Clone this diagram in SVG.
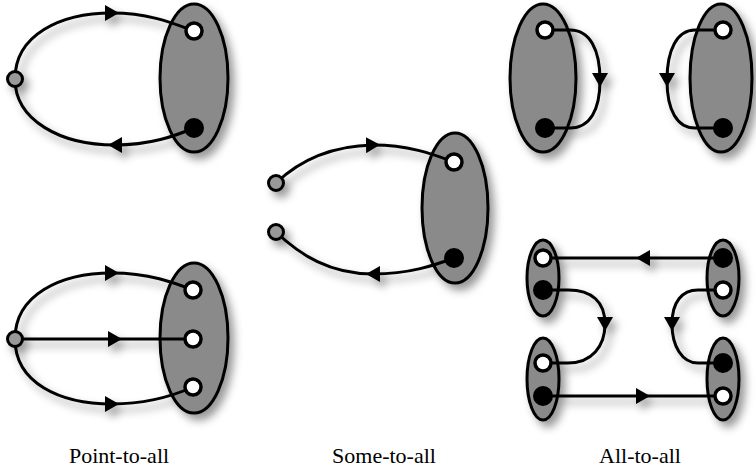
<svg xmlns="http://www.w3.org/2000/svg" width="756" height="471" viewBox="0 0 756 471">
<defs>
<filter id="sh" x="-30%" y="-30%" width="170%" height="170%">
<feDropShadow dx="5" dy="6" stdDeviation="4" flood-color="#000" flood-opacity="0.4"/>
</filter>
<marker id="arr" viewBox="0 0 14 16" markerWidth="14" markerHeight="16" refX="7" refY="8" orient="auto" markerUnits="userSpaceOnUse">
<path d="M0,0 L14,8 L0,16 z" fill="#000"/>
</marker>
</defs>
<style>
.grp{fill:#8a8a8a;stroke:#000;stroke-width:3}
.src{fill:#999;stroke:#000;stroke-width:3}
.wn{fill:#fff;stroke:#000;stroke-width:3.5}
.bn{fill:#000;stroke:#000;stroke-width:2}
.c{fill:none;stroke:#000;stroke-width:3}
.a{marker-end:url(#arr)}
.lbl{font-family:"Liberation Serif","Times New Roman",serif;font-size:22px;fill:#000;text-anchor:middle}
</style>
<g filter="url(#sh)">
<g id="groups">
<ellipse id="g1" class="grp" cx="194" cy="78" rx="34" ry="74"/>
<ellipse id="g2" class="grp" cx="194" cy="338" rx="34" ry="75"/>
<ellipse id="g3" class="grp" cx="455" cy="208" rx="33" ry="75"/>
<ellipse id="g4" class="grp" cx="543" cy="78" rx="33" ry="74"/>
<ellipse id="g5" class="grp" cx="721" cy="78" rx="31" ry="74"/>
<ellipse id="g6" class="grp" cx="543" cy="278" rx="16" ry="38"/>
<ellipse id="g7" class="grp" cx="543" cy="379" rx="16" ry="41"/>
<ellipse id="g8" class="grp" cx="723" cy="278" rx="16" ry="38"/>
<ellipse id="g9" class="grp" cx="723" cy="379" rx="16" ry="41"/>
</g>
<g id="connectors">
<path class="c a" d="M15,79 C15,35 60,13 112,13"/>
<path class="c" d="M112,13 C150,13 175,24 194,31"/>
<path class="c a" d="M194,128 C175,136 150,145 115,145"/>
<path class="c" d="M115,145 C60,145 15,120 15,79"/>
<path class="c a" d="M15,339 C15,295 60,273 112,273"/>
<path class="c" d="M112,273 C150,273 175,283 193,290"/>
<path class="c a" d="M15,339 L115,339"/>
<path class="c" d="M115,339 L193,339"/>
<path class="c a" d="M15,339 C15,383 60,404 112,404"/>
<path class="c" d="M112,404 C150,404 175,395 193,387"/>
<path class="c a" d="M276,183 C300,160 330,146 373,145"/>
<path class="c" d="M373,145 C410,145 435,155 454,162"/>
<path class="c a" d="M454,258 C435,265 410,274 373,274"/>
<path class="c" d="M373,274 C330,274 300,255 276,232"/>
<path class="c a" d="M545,30 L570,30 C590,30 600,50 600,80"/>
<path class="c" d="M600,80 C600,110 590,128 570,128 L545,128"/>
<path class="c a" d="M723,30 L695,30 C677,30 667,50 667,80"/>
<path class="c" d="M667,80 C667,110 677,128 695,128 L723,128"/>
<path class="c a" d="M723,258 L643,258"/>
<path class="c" d="M643,258 L543,258"/>
<path class="c a" d="M543,396 L643,396"/>
<path class="c" d="M643,396 L723,396"/>
<path class="c a" d="M543,290 L568,290 C592,290 605,302 605,324"/>
<path class="c" d="M605,324 C605,346 592,363 568,363 L543,363"/>
<path class="c a" d="M723,290 L698,290 C682,290 672,302 672,324"/>
<path class="c" d="M672,324 C672,346 682,363 698,363 L723,363"/>
</g>
<g id="nodes">
<circle id="n1" class="src" cx="15" cy="79" r="7.5"/>
<circle id="n2" class="wn" cx="194" cy="31" r="8"/>
<circle id="n3" class="bn" cx="194" cy="128" r="9"/>
<circle id="n4" class="src" cx="15" cy="339" r="7.5"/>
<circle id="n5" class="wn" cx="193" cy="290" r="8"/>
<circle id="n6" class="wn" cx="193" cy="339" r="8"/>
<circle id="n7" class="wn" cx="193" cy="387" r="8"/>
<circle id="n8" class="src" cx="276" cy="183" r="7.5"/>
<circle id="n9" class="src" cx="276" cy="232" r="7.5"/>
<circle id="n10" class="wn" cx="454" cy="162" r="8"/>
<circle id="n11" class="bn" cx="454" cy="258" r="9"/>
<circle id="n12" class="wn" cx="545" cy="30" r="8"/>
<circle id="n13" class="bn" cx="545" cy="128" r="9"/>
<circle id="n14" class="wn" cx="723" cy="30" r="8"/>
<circle id="n15" class="bn" cx="723" cy="128" r="9"/>
<circle id="n16" class="wn" cx="543" cy="258" r="8"/>
<circle id="n17" class="bn" cx="543" cy="290" r="9"/>
<circle id="n18" class="wn" cx="543" cy="363" r="8"/>
<circle id="n19" class="bn" cx="543" cy="396" r="9"/>
<circle id="n20" class="bn" cx="723" cy="258" r="9"/>
<circle id="n21" class="wn" cx="723" cy="290" r="8"/>
<circle id="n22" class="bn" cx="723" cy="363" r="9"/>
<circle id="n23" class="wn" cx="723" cy="396" r="8"/>
</g>
</g>
<g id="labels">
<text class="lbl" x="119" y="463">Point-to-all</text>
<text class="lbl" x="384" y="463">Some-to-all</text>
<text class="lbl" x="640" y="463">All-to-all</text>
</g>
</svg>
